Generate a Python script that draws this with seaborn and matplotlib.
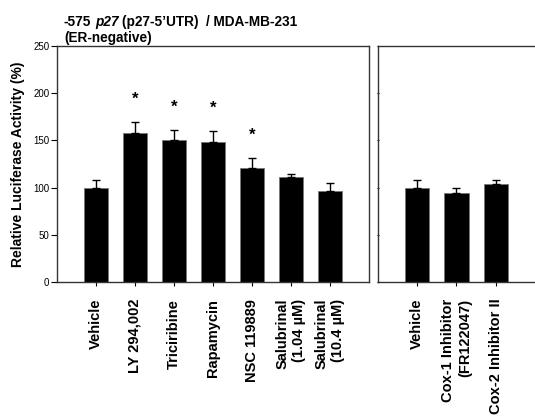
import pandas as pd
import seaborn as sns
import matplotlib.pyplot as plt
import numpy as np

# left panel
left_labels = ["Vehicle", "LY 294,002", "Triciribine", "Rapamycin", "NSC 119889",
               "Salubrinal\n(1.04 \u00b5M)", "Salubrinal\n(10.4 \u00b5M)"]
left_vals = [100, 158, 150, 148, 121, 111, 96]
left_err = [8, 12, 11, 12, 10, 3, 9]
left_sig = [False, True, True, True, True, False, False]

# right panel
right_labels = ["Vehicle", "Cox-1 Inhibitor\n(FR122047)", "Cox-2 Inhibitor II"]
right_vals = [100, 94, 104]
right_err = [8, 6, 4]

yticks = [0, 50, 100, 150, 200, 250]

sns.set_style("ticks", {"text.color": "black", "axes.labelcolor": "black",
                        "xtick.color": "black", "ytick.color": "black"})
plt.rcParams['font.family'] = ['Liberation Sans', 'DejaVu Sans']

fig = plt.figure(figsize=(5.35, 4.17), dpi=100)
ax1 = fig.add_axes([0.1065, 0.3237, 0.583, 0.566])
ax2 = fig.add_axes([0.7065, 0.3237, 0.2935, 0.566])

def panel(ax, labels, vals, err):
	df = pd.DataFrame({"cond": labels, "val": vals})
	sns.barplot(data=df, x="cond", y="val", color="black", width=0.62,
	            edgecolor="#777777", linewidth=0.6, ax=ax)
	x = np.arange(len(vals))
	ax.errorbar(x, vals, yerr=[np.zeros(len(err)), err], fmt="none",
	            ecolor="black", elinewidth=1, capsize=2.8, capthick=1)
	ax.set_xlim(-1, len(vals))
	ax.set_ylim(0, 250)
	ax.set_yticks(yticks)
	ax.set_xlabel("")
	ax.set_ylabel("")
	ax.set_xticks(x)
	ax.set_xticklabels(labels, rotation=90, fontsize=10.5, fontweight="bold",
	                   ha="center", va="top", multialignment="right", linespacing=1.25)
	ax.tick_params(axis="x", length=3, width=0.8, pad=9)
	ax.tick_params(axis="y", length=4, width=0.8, pad=1.5)
	for s in ax.spines.values():
		s.set_linewidth(1)
		s.set_color("#333333")

panel(ax1, left_labels, left_vals, left_err)
panel(ax2, right_labels, right_vals, right_err)

ax1.set_yticklabels([str(t) for t in yticks], fontsize=7)
ax1.set_ylabel("Relative Luciferase Activity (%)", fontsize=10, fontweight="bold", labelpad=6)
ax2.set_yticklabels([])
ax2.tick_params(axis="y", length=2, direction="inout")
ax2.spines["right"].set_visible(False)

for i, (v, e, s) in enumerate(zip(left_vals, left_err, left_sig)):
	if s:
		ax1.text(i, v + e + 24, "*", ha="center", va="center", fontsize=12, fontweight="bold")

# title in pieces so the gene name can be bold italic
tfs = 9.8
t1 = fig.text(64 / 535, 1 - 29 / 417, "-575", ha="left", va="bottom",
              fontsize=tfs, fontweight="bold")
t2 = fig.add_artist(plt.matplotlib.text.Annotation(
	"p27", xy=(1, 0), xycoords=t1, xytext=(2.7, 0), textcoords="offset points",
	ha="left", va="bottom", fontsize=tfs, fontweight="bold", fontstyle="italic"))
t3 = fig.add_artist(plt.matplotlib.text.Annotation(
	"(p27-5\u2019UTR)  / MDA-MB-231", xy=(1, 0), xycoords=t2, xytext=(2.7, 0),
	textcoords="offset points", ha="left", va="bottom", fontsize=tfs, fontweight="bold"))
fig.text(64 / 535, 1 - 45 / 417, "(ER-negative)", ha="left", va="bottom",
         fontsize=tfs, fontweight="bold")

fig.savefig("out.png", dpi=100)
